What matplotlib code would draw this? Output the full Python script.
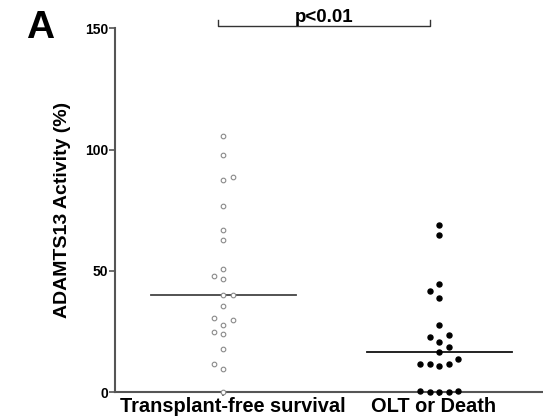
import matplotlib
matplotlib.use("Agg")
import matplotlib.pyplot as plt

# ADAMTS13 activity (%) per patient
groups = ["Transplant-free survival", "OLT or Death"]
tfs_values = [105.6, 97.6, 88.6, 87.6, 76.6, 66.7, 62.6, 51.0, 47.8, 46.7, 40.0,
              40.0, 35.8, 30.8, 29.8, 27.9, 24.8, 23.9, 17.8, 11.8, 9.8, 0.0]
olt_values = [68.8, 64.7, 44.8, 41.9, 38.7, 27.7, 23.8, 22.8, 20.7, 18.7, 16.6,
              13.7, 11.8, 11.8, 10.8, 11.8, 0.7, 0.3, 0.3, 0.3, 0.7]
tfs_median = 40.0
olt_median = 16.6
yticks = [0, 50, 100, 150]
p_label = "p<0.01"

# column slot of each dot (scatter-dot layout)
tfs_slot = [0, 0, 1, 0, 0, 0, 0, 0, -1, 0, 0, 1, 0, -1, 1, 0, -1, 0, 0, -1, 0, 0]
olt_slot = [0, 0, 0, -1, 0, 0, 1, -1, 0, 1, 0, 2, -2, -1, 0, 1, -2, -1, 0, 1, 2]
step = 0.044

plt.rcParams['font.family'] = ['Liberation Sans', 'DejaVu Sans']

fig = plt.figure(figsize=(5.43, 4.2), dpi=100)
ax = fig.add_axes([0.2118, 0.0655, 0.7882, 0.8678])

ax.scatter([1 + s * step for s in tfs_slot], tfs_values, s=11, facecolors='white',
           edgecolors='#8a8a8a', linewidths=0.8, zorder=3, clip_on=False)
ax.scatter([2 + s * step for s in olt_slot], olt_values, s=13, color='black',
           zorder=3, clip_on=False)

ax.plot([1 - 0.336, 1 + 0.336], [tfs_median, tfs_median], color='#444444', lw=1.3, zorder=2)
ax.plot([2 - 0.336, 2 + 0.336], [olt_median, olt_median], color='#111111', lw=1.3, zorder=2)

ax.set_xlim(0.498, 2.48)
ax.set_ylim(0, 150)
ax.set_yticks(yticks)
ax.set_yticklabels([str(t) for t in yticks], fontsize=10, fontweight='bold')
ax.set_xticks([1, 2])
ax.set_xticklabels([])
ax.set_ylabel("ADAMTS13 Activity (%)", fontsize=14, fontweight='bold', labelpad=10)

# group labels under the ticks, nudged sideways a little
for xpos, name, dx in zip([1, 2], groups, [7, -4.5]):
    ax.annotate(name, xy=(xpos, 0), xycoords=('data', 'axes fraction'),
                xytext=(dx, -3), textcoords='offset points', ha='center', va='top',
                fontsize=14.4, fontweight='bold', annotation_clip=False)

for side in ['top', 'right']:
    ax.spines[side].set_visible(False)
for side in ['left', 'bottom']:
    ax.spines[side].set_color('#555555')
    ax.spines[side].set_linewidth(1.5)
ax.tick_params(axis='y', length=4, width=1.2, color='#555555', pad=1)
ax.tick_params(axis='x', length=3, width=1.2, color='#555555', pad=1)

# significance bracket
bx0, bx1, by = 0.977, 1.958, 151.0
ax.plot([bx0, bx0, bx1, bx1], [by + 2.2, by, by, by + 2.2], color='#333333', lw=1.0,
        clip_on=False)
ax.text((bx0 + bx1) / 2, by - 0.2, p_label, ha='center', va='bottom',
        fontsize=13.5, fontweight='bold')

fig.text(0.048, 0.975, "A", fontsize=28, fontweight='bold', ha='left', va='top')

fig.savefig("out.png", dpi=100)
